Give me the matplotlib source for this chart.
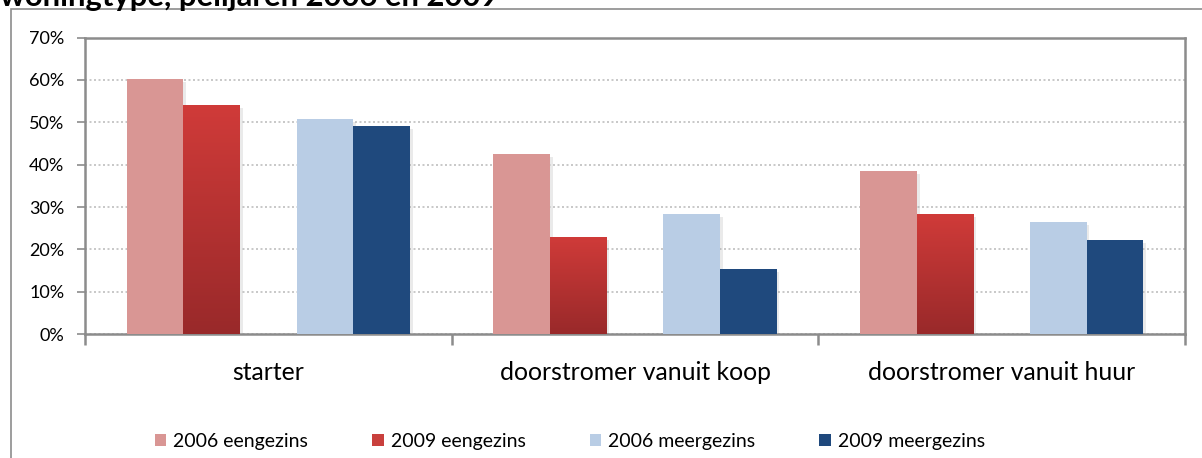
import numpy as np
import matplotlib
matplotlib.use('Agg')
import matplotlib.pyplot as plt
from matplotlib.patches import Patch, Rectangle
from matplotlib.colors import LinearSegmentedColormap
import matplotlib.patheffects as pe

# data
categories = ['starter', 'doorstromer vanuit koop', 'doorstromer vanuit huur']
series = ['2006 eengezins', '2009 eengezins', '2006 meergezins', '2009 meergezins']
eengezins_2006 = [60.2, 42.5, 38.4]
eengezins_2009 = [54.1, 22.9, 28.3]
meergezins_2006 = [50.8, 28.4, 26.4]
meergezins_2009 = [49.1, 15.3, 22.3]
yticks = [0, 10, 20, 30, 40, 50, 60, 70]

colors = ['#D99694', '#C9403D', '#B9CDE5', '#1F497D']
plt.rcParams['font.family'] = ['Lato', 'DejaVu Sans']

fig = plt.figure(figsize=(12.02, 4.58), dpi=100)
ax = fig.add_axes([85 / 1202, 1 - 334.3 / 458, 1100 / 1202, 296.8 / 458])

# outer chart frame
fig.patches.append(Rectangle((11 / 1202, -0.1), 1.2, 1 - 9.5 / 458 + 0.1,
                             transform=fig.transFigure, fill=False,
                             edgecolor='#8C8C8C', linewidth=1.2))
# title, cut off at the top edge like the source
fig.text(0.0, 1 - 6 / 458, 'woningtype, peiljaren 2006 en 2009',
         fontsize=22.3, fontweight='bold', va='baseline', ha='left')

x = np.arange(len(categories))
w = 56.5 / 366
offsets = [-2 * w, -w, w, 2 * w]
values = [eengezins_2006, eengezins_2009, meergezins_2006, meergezins_2009]
shadow = [pe.SimplePatchShadow(offset=(2, -2), shadow_rgbFace='#999999', alpha=0.2), pe.Normal()]

bars_all = []
for vals, off, c in zip(values, offsets, colors):
    bars = ax.bar(x + off, vals, width=w, color=c, zorder=3, path_effects=shadow)
    bars_all.append(bars)

# gradient on 2009 eengezins
cmap = LinearSegmentedColormap.from_list('red', ['#99292A', '#D03B39'])
grad = np.linspace(0, 1, 256).reshape(-1, 1)
for b in bars_all[1]:
    x0, y0 = b.get_x(), b.get_y()
    im = ax.imshow(grad, cmap=cmap, origin='lower', aspect='auto',
                   extent=[x0, x0 + b.get_width(), y0, y0 + b.get_height()], zorder=4)
    im.set_clip_path(b)

ax.set_xlim(-0.5, 2.5)
ax.set_ylim(0, 70)
ax.set_yticks(yticks)
ax.set_yticklabels([f'{v}%' for v in yticks])
ax.set_xticks(x)
ax.set_xticklabels(categories, fontsize=17.8)
ax.set_xticks([-0.5, 0.5, 1.5, 2.5], minor=True)
ax.tick_params(axis='x', which='major', length=0, pad=19)
ax.tick_params(axis='x', which='minor', length=8, width=1.8, color='#8C8C8C', direction='out')
ax.tick_params(axis='y', length=6, width=1.2, color='#8C8C8C', labelsize=13, pad=9)
ax.yaxis.grid(True, linestyle=(0, (1.2, 1.5)), color='#BFBFBF', linewidth=1.2, zorder=0)
ax.set_axisbelow(True)
for s in ax.spines.values():
    s.set_color('#8C8C8C')
    s.set_linewidth(1.8)

handles = [Patch(facecolor=c, edgecolor='none') for c in colors]
fig.legend(handles, series, loc='center', bbox_to_anchor=(0.474, 0.037), ncol=4,
           frameon=False, fontsize=14, handlelength=0.6, handleheight=0.6,
           handletextpad=0.35, columnspacing=3.3)

fig.savefig('out.png', dpi=100)
